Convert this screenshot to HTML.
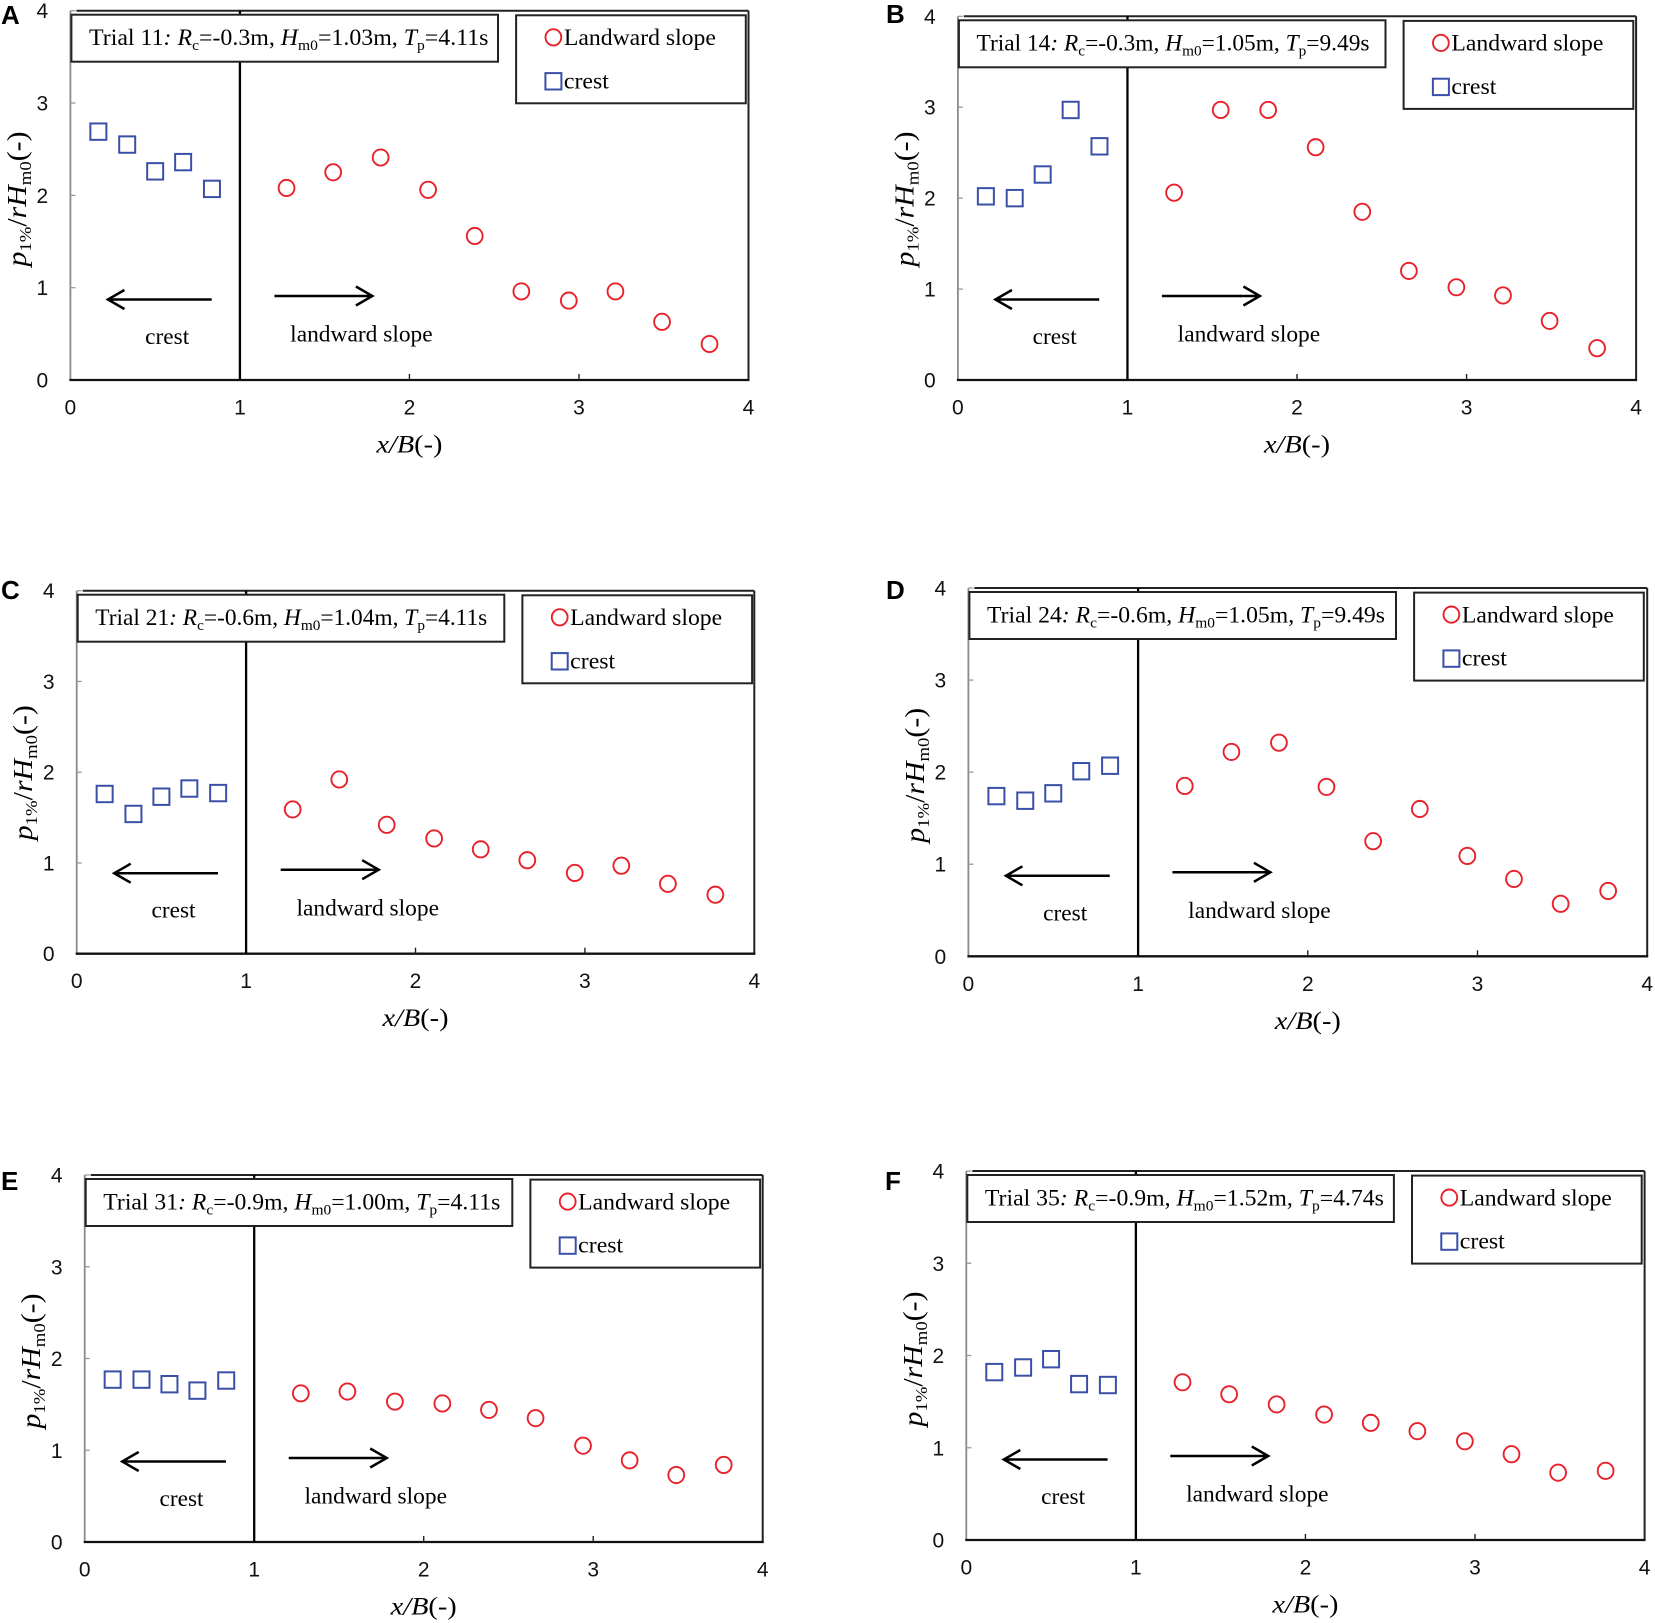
<!DOCTYPE html>
<html lang="en">
<head>
<meta charset="utf-8">
<title>Six panel scatter charts of p1%/rHm0 against x/B</title>
<style>
  html, body { margin: 0; padding: 0; background: #ffffff; }
  svg { display: block; filter: blur(0.35px); }
  text { font-family: "Liberation Serif", serif; fill: #000000; }
  .tick { font-family: "Liberation Sans", sans-serif; font-size: 21px; fill: #111111; }
  .letter { font-family: "Liberation Sans", sans-serif; font-weight: 700; font-size: 26px; fill: #000000; }
</style>
</head>
<body>
<svg id="figure" xmlns="http://www.w3.org/2000/svg" width="1655" height="1623" viewBox="0 0 1655 1623"></svg>
<script>
const xTicks = [0, 1, 2, 3, 4];
const yTicks = [0, 1, 2, 3, 4];
const crestX = [0.165, 0.335, 0.5, 0.665, 0.835];
const landwardX = [1.275, 1.55, 1.83, 2.11, 2.385, 2.66, 2.94, 3.215, 3.49, 3.77];

const panelACrest = [2.69, 2.55, 2.26, 2.36, 2.07];
const panelALandward = [2.08, 2.25, 2.41, 2.06, 1.56, 0.96, 0.86, 0.96, 0.63, 0.39];
const panelBCrest = [2.02, 2.00, 2.26, 2.97, 2.57];
const panelBLandward = [2.06, 2.97, 2.97, 2.56, 1.85, 1.20, 1.02, 0.93, 0.65, 0.35];
const panelCCrest = [1.76, 1.54, 1.73, 1.82, 1.77];
const panelCLandward = [1.59, 1.92, 1.42, 1.27, 1.15, 1.03, 0.89, 0.97, 0.77, 0.65];
const panelDCrest = [1.74, 1.69, 1.77, 2.01, 2.07];
const panelDLandward = [1.85, 2.22, 2.32, 1.84, 1.25, 1.60, 1.09, 0.84, 0.57, 0.71];
const panelECrest = [1.77, 1.77, 1.72, 1.65, 1.76];
const panelELandward = [1.62, 1.64, 1.53, 1.51, 1.44, 1.35, 1.05, 0.89, 0.73, 0.84];
const panelFCrest = [1.82, 1.87, 1.96, 1.69, 1.68];
const panelFLandward = [1.71, 1.58, 1.47, 1.36, 1.27, 1.18, 1.07, 0.93, 0.73, 0.75];

const panels = [
  { key: 'a', letter: 'A', letterX: 1, letterY: 24, left: 70.4, right: 748.5, bottom: 380, top: 10.7, trial: '11', rc: '-0.3m', hm: '1.03m', tp: '4.11s', textW: 399.5, crest: panelACrest, landward: panelALandward },
  { key: 'b', letter: 'B', letterX: 886, letterY: 23, left: 957.9, right: 1636.1, bottom: 380, top: 16.3, trial: '14', rc: '-0.3m', hm: '1.05m', tp: '9.49s', textW: 393, crest: panelBCrest, landward: panelBLandward },
  { key: 'c', letter: 'C', letterX: 1, letterY: 599, left: 76.7, right: 754.3, bottom: 953.7, top: 590.7, trial: '21', rc: '-0.6m', hm: '1.04m', tp: '4.11s', textW: 392, crest: panelCCrest, landward: panelCLandward },
  { key: 'd', letter: 'D', letterX: 886, letterY: 599, left: 968.4, right: 1647.2, bottom: 956.3, top: 588, trial: '24', rc: '-0.6m', hm: '1.05m', tp: '9.49s', textW: 398, crest: panelDCrest, landward: panelDLandward },
  { key: 'e', letter: 'E', letterX: 1, letterY: 1190, left: 84.7, right: 762.7, bottom: 1542, top: 1175, trial: '31', rc: '-0.9m', hm: '1.00m', tp: '4.11s', textW: 397, crest: panelECrest, landward: panelELandward },
  { key: 'f', letter: 'F', letterX: 885, letterY: 1190, left: 966.3, right: 1644.6, bottom: 1540, top: 1171, trial: '35', rc: '-0.9m', hm: '1.52m', tp: '4.74s', textW: 399, crest: panelFCrest, landward: panelFLandward }
];

const SVG_NS = 'http://www.w3.org/2000/svg';
const RED = '#e8212b';
const BLUE = '#3a50a8';
const figure = document.getElementById('figure');

function make(parent, tag, attrs, content) {
  const node = document.createElementNS(SVG_NS, tag);
  for (const k in attrs) node.setAttribute(k, attrs[k]);
  if (content !== undefined) node.textContent = content;
  parent.appendChild(node);
  return node;
}

function line(parent, x1, y1, x2, y2, color, width) {
  return make(parent, 'line', { x1: x1, y1: y1, x2: x2, y2: y2, stroke: color, 'stroke-width': width });
}

function addSpans(textNode, parts) {
  parts.forEach(function (p) {
    const attrs = {};
    if (p.italic) attrs['font-style'] = 'italic';
    if (p.size) attrs['font-size'] = p.size;
    if (p.dy) attrs.dy = p.dy;
    make(textNode, 'tspan', attrs, p.t);
  });
}

function drawCircle(parent, cx, cy) {
  return make(parent, 'ellipse', { cx: cx, cy: cy, rx: 7.9, ry: 8.1, fill: 'none', stroke: RED, 'stroke-width': 1.9 });
}

function drawSquare(parent, cx, cy) {
  return make(parent, 'rect', { x: cx - 8, y: cy - 8.2, width: 16, height: 16.4, fill: 'none', stroke: BLUE, 'stroke-width': 2 });
}

function drawPanel(p) {
  const sx = function (v) { return p.left + (v / 4) * (p.right - p.left); };
  const sy = function (v) { return p.bottom - (v / 4) * (p.bottom - p.top); };
  const L = p.left, T = p.top, B = p.bottom;

  const g = make(figure, 'g', {});
  
  

  const letter = make(g, 'text', { x: p.letterX, y: p.letterY, class: 'letter' }, p.letter);
  
  

  const plotBg = make(g, 'rect', { x: L, y: T, width: p.right - L, height: B - T, fill: '#ffffff' });
  
  

  const axes = make(g, 'g', {});
  
  
  line(axes, L, T, L, B, '#8a8a8a', 1.8);
  line(axes, L + 6, T, p.right, T, '#222222', 2);
  line(axes, p.right, T, p.right, B, '#222222', 2);
  line(axes, L - 1, B, p.right + 1, B, '#111111', 2.3);

  yTicks.forEach(function (v) {
    if (v !== 0) {
      const tick = line(axes, L, sy(v), L + 5, sy(v), '#999999', 1.3);
      
      
    }
    const label = make(g, 'text', { x: L - 28, y: sy(v) + 7.5, class: 'tick', 'text-anchor': 'middle' }, String(v));
    
    
  });

  xTicks.forEach(function (v) {
    if (v === 2 || v === 3) {
      const tick = line(axes, sx(v), B, sx(v), B - 6, '#222222', 1.4);
      
      
    }
    const label = make(g, 'text', { x: sx(v), y: B + 34.5, class: 'tick', 'text-anchor': 'middle' }, String(v));
    
    
  });

  const divider = line(g, sx(1), T, sx(1), B, '#000000', 2.3);
  
  

  const trialBox = make(g, 'rect', { x: L + 1, y: T + 4, width: 426.6, height: 47, fill: '#ffffff', stroke: '#222222', 'stroke-width': 2 });
  
  

  const trialText = make(g, 'text', { x: L + 18.6, y: T + 34.3, 'font-size': 23, textLength: p.textW, lengthAdjust: 'spacingAndGlyphs' });
  
  
  addSpans(trialText, [
    { t: 'Trial ' + p.trial },
    { t: ': ', italic: true },
    { t: 'R', italic: true },
    { t: 'c', size: 15, dy: 5 },
    { t: '=' + p.rc + ', ', dy: -5 },
    { t: 'H', italic: true },
    { t: 'm0', size: 15, dy: 5 },
    { t: '=' + p.hm + ', ', dy: -5 },
    { t: 'T', italic: true },
    { t: 'p', size: 15, dy: 5 },
    { t: '=' + p.tp, dy: -5 }
  ]);

  const legend = make(g, 'g', {});
  
  
  make(legend, 'rect', { x: L + 445.7, y: T + 4.6, width: 229.7, height: 88, fill: '#ffffff', stroke: '#222222', 'stroke-width': 2 });

  const legendCircle = drawCircle(legend, L + 483, T + 26.6);
  
  
  const legendLand = make(legend, 'text', { x: L + 493.5, y: T + 34.3, 'font-size': 23, textLength: 152, lengthAdjust: 'spacingAndGlyphs' }, 'Landward slope');
  
  

  const legendSquare = drawSquare(legend, L + 483, T + 70.6);
  
  
  const legendCrest = make(legend, 'text', { x: L + 493.5, y: T + 77.6, 'font-size': 23, textLength: 45, lengthAdjust: 'spacingAndGlyphs' }, 'crest');
  
  

  const leftArrow = make(g, 'path', {
    d: 'M' + (L + 141.3) + ' ' + (B - 80.5) + 'H' + (L + 37.5) + 'M' + (L + 54) + ' ' + (B - 90) + 'L' + (L + 37.5) + ' ' + (B - 80.5) + 'L' + (L + 54) + ' ' + (B - 71),
    fill: 'none', stroke: '#000000', 'stroke-width': 2.5
  });
  
  

  const rightArrow = make(g, 'path', {
    d: 'M' + (L + 204) + ' ' + (B - 84) + 'H' + (L + 302) + 'M' + (L + 285.5) + ' ' + (B - 93.5) + 'L' + (L + 302) + ' ' + (B - 84) + 'L' + (L + 285.5) + ' ' + (B - 74.5),
    fill: 'none', stroke: '#000000', 'stroke-width': 2.5
  });
  
  

  const crestNote = make(g, 'text', { x: L + 74.8, y: B - 36, 'font-size': 23, textLength: 44, lengthAdjust: 'spacingAndGlyphs' }, 'crest');
  
  

  const landNote = make(g, 'text', { x: L + 219.8, y: B - 38.3, 'font-size': 23, textLength: 142.5, lengthAdjust: 'spacingAndGlyphs' }, 'landward slope');
  
  

  const xTitle = make(g, 'text', { x: sx(2) - 33, y: B + 72.5, 'font-size': 25, textLength: 66, lengthAdjust: 'spacingAndGlyphs' });
  
  
  addSpans(xTitle, [{ t: 'x/B', italic: true }, { t: '(-)' }]);

  const yTitleX = L - 44.5;
  const yTitleY = B - 181 + 67.5;
  const yTitle = make(g, 'text', { x: 0, y: 0, transform: 'translate(' + yTitleX + ' ' + yTitleY + ') rotate(-90)', 'font-size': 27, textLength: 135, lengthAdjust: 'spacingAndGlyphs' });
  
  
  addSpans(yTitle, [
    { t: 'p', italic: true },
    { t: '1%', size: 17, dy: 5 },
    { t: '/', dy: -5 },
    { t: 'rH', italic: true },
    { t: 'm0', size: 17, dy: 5 },
    { t: '(-)', dy: -5 }
  ]);

  const crestGroup = make(g, 'g', {});
  
  
  p.crest.forEach(function (v, i) {
    const mark = drawSquare(crestGroup, sx(crestX[i]), sy(v));
    
    
  });

  const landGroup = make(g, 'g', {});
  
  
  p.landward.forEach(function (v, i) {
    const mark = drawCircle(landGroup, sx(landwardX[i]), sy(v));
    
    
  });
}

panels.forEach(drawPanel);
</script>
</body>
</html>
